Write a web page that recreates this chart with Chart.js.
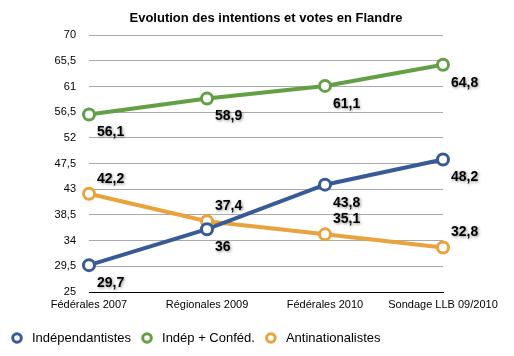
<!DOCTYPE html>
<html><head><meta charset="utf-8">
<script src="https://cdn.jsdelivr.net/npm/chart.js@4/dist/chart.umd.min.js"></script>
<style>html,body{margin:0;padding:0;background:#fff;}#wrap{width:514px;height:356px;}</style>
</head><body><div id="wrap"><canvas id="c" width="514" height="356"></canvas></div>
<script>
const categories = ['Fédérales 2007', 'Régionales 2009', 'Fédérales 2010', 'Sondage LLB 09/2010'];
const independantistes = [29.7, 36, 43.8, 48.2];
const indepConfed = [56.1, 58.9, 61.1, 64.8];
const antinationalistes = [42.2, 37.4, 35.1, 32.8];
const yTicks = ['25', '29,5', '34', '38,5', '43', '47,5', '52', '56,5', '61', '65,5', '70'];
const seriesNames = ['Indépendantistes', 'Indép + Conféd.', 'Antinationalistes'];

const FONT = '"Liberation Sans", Arial, Helvetica, sans-serif';
const colors = ['#385a96', '#63a045', '#e9a23c'];
const labelPos = ['below', 'below', 'above'];

function ds(label, data, color) {
  return {
    label, data,
    borderColor: color, borderWidth: 4,
    pointBackgroundColor: '#fff', pointBorderColor: color,
    pointBorderWidth: 3, pointRadius: 5.5, pointHoverRadius: 5.5,
    fill: false, tension: 0
  };
}

const labelsPlugin = {
  id: 'valueLabels',
  afterDatasetsDraw(chart) {
    const ctx = chart.ctx;
    ctx.save();
    ctx.font = 'bold 14px ' + FONT;
    ctx.textAlign = 'left';
    ctx.textBaseline = 'middle';
    ctx.fillStyle = '#000';
    ctx.shadowColor = 'rgba(0,0,0,0.45)';
    ctx.shadowBlur = 3;
    ctx.shadowOffsetX = 1;
    ctx.shadowOffsetY = 1;
    chart.data.datasets.forEach((d, i) => {
      const meta = chart.getDatasetMeta(i);
      meta.data.forEach((pt, j) => {
        const txt = String(d.data[j]).replace('.', ',');
        const dy = labelPos[i] === 'below' ? 18 : -15;
        ctx.fillText(txt, pt.x + 8, pt.y + dy);
      });
    });
    ctx.restore();
  }
};

const legendPlugin = {
  id: 'customLegend',
  afterDraw(chart) {
    const ctx = chart.ctx;
    ctx.save();
    ctx.font = '13px ' + FONT;
    ctx.textAlign = 'left';
    ctx.textBaseline = 'middle';
    const y = 338;
    let cx = 17;
    chart.data.datasets.forEach((d) => {
      ctx.beginPath();
      ctx.arc(cx, y, 4.3, 0, Math.PI * 2);
      ctx.fillStyle = '#fff';
      ctx.fill();
      ctx.lineWidth = 3;
      ctx.strokeStyle = d.borderColor;
      ctx.stroke();
      ctx.fillStyle = '#000';
      const tx = cx + 15;
      ctx.fillText(d.label, tx, y);
      cx = tx + ctx.measureText(d.label).width + 16;
    });
    ctx.restore();
  }
};

new Chart(document.getElementById('c'), {
  type: 'line',
  data: {
    labels: categories,
    datasets: [
      ds(seriesNames[0], independantistes, colors[0]),
      ds(seriesNames[1], indepConfed, colors[1]),
      ds(seriesNames[2], antinationalistes, colors[2])
    ]
  },
  options: {
    responsive: false,
    animation: false,
    layout: { padding: { left: 0, right: 71, top: 0, bottom: 34 } },
    plugins: {
      title: {
        display: true, fullSize: false,
        text: 'Evolution des intentions et votes en Flandre',
        color: '#000',
        font: { family: FONT, size: 13, weight: 'bold' },
        padding: { top: 11, bottom: 8.5 }
      },
      legend: { display: false },
      tooltip: { enabled: false }
    },
    scales: {
      x: {
        offset: false,
        grid: { display: false, drawTicks: false },
        border: { display: true, color: '#000', width: 1 },
        ticks: { color: '#000', padding: 6, font: { family: FONT, size: 11 }, maxRotation: 0, autoSkip: false },
        afterFit(s) { s.height = 30; }
      },
      y: {
        min: 25, max: 70,
        grid: { color: '#aaaaaa', lineWidth: 1, drawTicks: false },
        border: { display: false },
        ticks: {
          stepSize: 4.5, color: '#000', padding: 13,
          font: { family: FONT, size: 11 },
          callback: (v, i) => yTicks[i]
        },
        afterFit(s) { s.width = 89; }
      }
    }
  },
  plugins: [labelsPlugin, legendPlugin]
});
</script></body></html>
